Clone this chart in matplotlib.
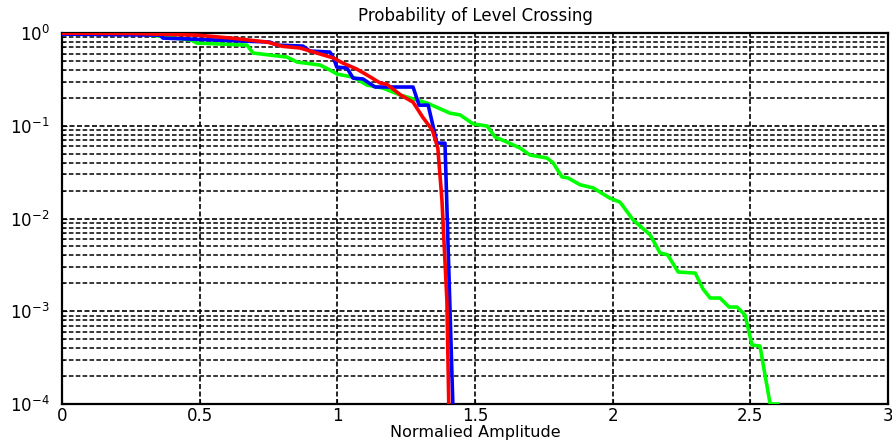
import matplotlib.pyplot as plt
from matplotlib.ticker import LogLocator, FixedLocator

# Level crossing probabilities
blue_x = [0, 0.356, 0.367, 0.755, 0.78, 0.875, 0.90, 0.973, 0.985, 0.998, 1.035,
          1.057, 1.093, 1.137, 1.275, 1.297, 1.33, 1.362, 1.391, 1.42]
blue_y = [0.975, 0.95, 0.883, 0.80, 0.742, 0.724, 0.64, 0.624, 0.55, 0.43, 0.42,
          0.327, 0.32, 0.262, 0.262, 0.167, 0.167, 0.065, 0.065, 0.00009]

red_x = [0, 0.26, 0.49, 0.62, 0.745, 0.80, 0.865, 0.925, 0.985, 1.02, 1.07, 1.11,
         1.155, 1.18, 1.23, 1.275, 1.31, 1.345, 1.365, 1.38, 1.398, 1.405]
red_y = [1.0, 0.99, 0.95, 0.88, 0.80, 0.72, 0.69, 0.61, 0.54, 0.475, 0.41, 0.35,
         0.29, 0.28, 0.215, 0.18, 0.124, 0.09, 0.0575, 0.0158, 0.0013, 0.00009]

green_x = [0, 0.06, 0.30, 0.47, 0.49, 0.672, 0.694, 0.817, 0.854, 0.937, 0.973,
           0.999, 1.057, 1.108, 1.166, 1.228, 1.326, 1.409, 1.446, 1.493, 1.544,
           1.573, 1.616, 1.664, 1.70, 1.762, 1.784, 1.816, 1.838, 1.882, 1.929,
           1.99, 2.027, 2.074, 2.136, 2.172, 2.20, 2.238, 2.30, 2.328, 2.354,
           2.39, 2.423, 2.452, 2.481, 2.506, 2.535, 2.572, 2.60]
green_y = [1.0, 1.0, 0.97, 0.84, 0.78, 0.742, 0.609, 0.551, 0.487, 0.452, 0.40,
           0.361, 0.335, 0.275, 0.255, 0.215, 0.176, 0.137, 0.131, 0.105, 0.0994,
           0.0757, 0.0668, 0.0575, 0.0484, 0.0449, 0.0397, 0.0281, 0.0274, 0.0231,
           0.0214, 0.0166, 0.0150, 0.00969, 0.00668, 0.00426, 0.00405, 0.00265,
           0.00258, 0.00174, 0.00139, 0.00139, 0.00111, 0.00111, 0.00091,
           0.000433, 0.000422, 0.0001, 0.0001]

x_ticks = [0, 0.5, 1, 1.5, 2, 2.5, 3]
x_labels = ['0', '0.5', '1', '1.5', '2', '2.5', '3']

plt.rcParams['font.family'] = ['DejaVu Sans']
plt.rcParams['mathtext.fontset'] = 'dejavusans'

fig = plt.figure(figsize=(8.92, 4.41), dpi=100)
ax = fig.add_axes([0.0695, 0.0839, 0.926, 0.8411])

ax.semilogy(green_x, green_y, color='#00ff00', lw=2.6, zorder=3)
ax.semilogy(blue_x, blue_y, color='#0000ff', lw=2.6, zorder=4)
ax.semilogy(red_x, red_y, color='#ff0000', lw=2.6, zorder=5)

ax.set_xlim(0, 3)
ax.set_ylim(1e-4, 1)
ax.xaxis.set_major_locator(FixedLocator(x_ticks))
ax.set_xticklabels(x_labels)
ax.yaxis.set_major_locator(LogLocator(base=10, numticks=10))
ax.yaxis.set_minor_locator(LogLocator(base=10, subs=range(2, 10), numticks=10))

ax.grid(True, which='major', color='black', linestyle=(0, (3, 1.5)), lw=1.2)
ax.grid(True, which='minor', axis='y', color='black', linestyle=(0, (3, 1.5)), lw=1.1)
ax.set_axisbelow(True)

ax.tick_params(which='both', direction='in', labelsize=12, colors='black')
ax.tick_params(axis='x', pad=2)
ax.tick_params(axis='y', pad=9)
for s in ax.spines.values():
    s.set_linewidth(1.6)

ax.set_title('Probability of Level Crossing', fontsize=12, pad=9)
ax.set_xlabel('Normalied Amplitude', fontsize=11.5, labelpad=0)

fig.savefig('out.png', dpi=100)
